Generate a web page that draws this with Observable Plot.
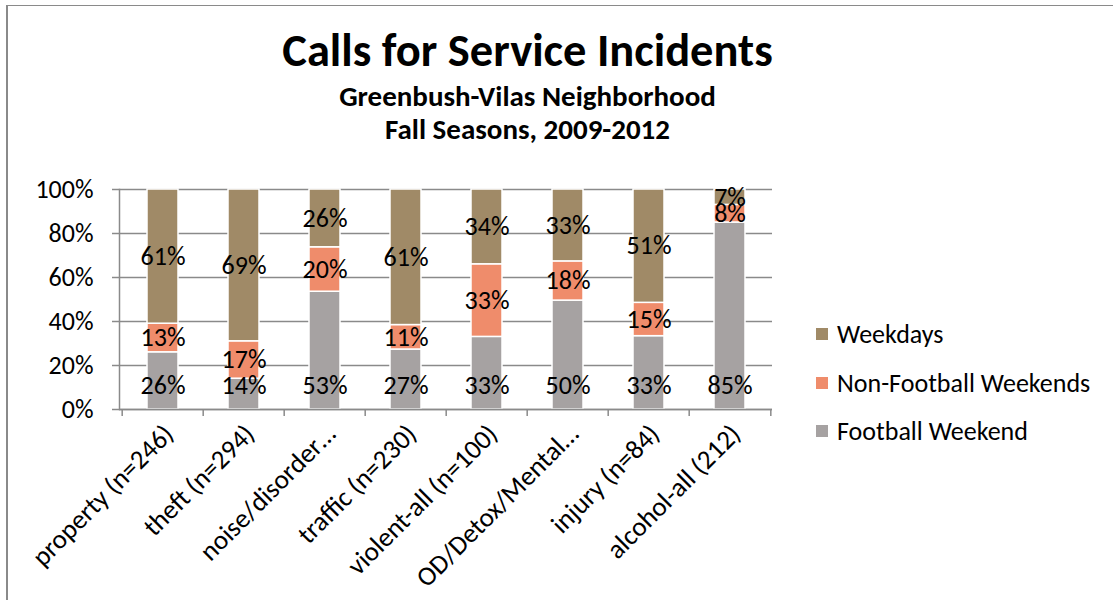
<!DOCTYPE html>
<html>
<head>
<meta charset="utf-8">
<script src="https://cdn.jsdelivr.net/npm/d3@7"></script>
<script src="https://cdn.jsdelivr.net/npm/@observablehq/plot@0.6"></script>
<style>
  html, body { margin: 0; padding: 0; background: #fff; }
  body { font-family: Carlito, Calibri, Lato, "Open Sans", sans-serif; }
  #wrap { position: relative; width: 1113px; height: 600px; overflow: hidden; }
  #border { position: absolute; left: 6px; top: 5px; width: 1120px; height: 620px;
            border-left: 2px solid #8a8a8a; border-top: 1.5px solid #8a8a8a; }
  .t { position: absolute; left: 0; width: 1055px; text-align: center; font-weight: bold; color: #000;
       white-space: nowrap; line-height: 1; }
  #title { top: 27px; font-size: 46.5px; }
  #sub1 { top: 82px; font-size: 29px; }
  #sub2 { top: 115px; font-size: 29px; }
  #chart { position: absolute; left: 0; top: 0; }
  #legend { position: absolute; left: 816px; top: 0; font-size: 26px; color: #000; }
  .li { position: absolute; left: 0; white-space: nowrap; display: flex; align-items: center; height: 30px; }
  .sw { width: 12px; height: 12px; margin-right: 9px; }
</style>
</head>
<body>
<div id="wrap">
  <div id="border"></div>
  <div class="t" id="title">Calls for Service Incidents</div>
  <div class="t" id="sub1">Greenbush-Vilas Neighborhood</div>
  <div class="t" id="sub2">Fall Seasons, 2009-2012</div>
  <div id="chart"></div>
  <div id="legend"></div>
</div>
<script>
// ---- data ----
const categories = ["property (n=246)", "theft (n=294)", "noise/disorder…", "traffic (n=230)",
                    "violent-all (n=100)", "OD/Detox/Mental…", "injury (n=84)", "alcohol-all (212)"];
const seriesNames = ["Football Weekend", "Non-Football Weekends", "Weekdays"];
const footballWeekend    = [26, 14, 53, 27, 33, 50, 33, 85];
const nonFootballWeekend = [13, 17, 20, 11, 33, 18, 15, 8];
const weekdays           = [61, 69, 26, 61, 34, 33, 51, 7];
const yTicks = [0, 0.2, 0.4, 0.6, 0.8, 1];
const colors = ["#A6A2A2", "#EF8C6B", "#A08A67"];

const seriesValues = [footballWeekend, nonFootballWeekend, weekdays];
const data = [];
categories.forEach((c, i) => {
  seriesNames.forEach((s, j) => data.push({category: c, series: s, value: seriesValues[j][i]}));
});

const W = 800, H = 600, mL = 119, mR = 28, mT = 189, mB = 191;
const step = (W - mL - mR) / categories.length;
const stackOpts = {offset: "normalize", order: seriesNames};
const FS = 26;

const chart = Plot.plot({
  width: W, height: H,
  marginLeft: mL, marginRight: mR, marginTop: mT, marginBottom: mB,
  style: {fontFamily: "Carlito, Calibri, Lato, sans-serif", background: "transparent", color: "#000"},
  x: {domain: categories, paddingInner: 0.62, paddingOuter: 0.31, label: null},
  y: {domain: [0, 1], label: null},
  color: {domain: seriesNames, range: colors},
  marks: [
    Plot.gridY(yTicks, {stroke: "#8a8a8a", strokeOpacity: 1, strokeWidth: 1.5}),
    Plot.axisY(yTicks, {tickFormat: d3.format(".0%"), tickSize: 7, tickPadding: 19, fontSize: FS,
                        stroke: "#8a8a8a", strokeWidth: 1.5, label: null}),
    Plot.frame({anchor: "left", stroke: "#8a8a8a", strokeWidth: 1.5}),
    Plot.barY(data, Plot.stackY(stackOpts, {
      x: "category", y: "value", fill: "series", z: "series",
      stroke: "white", strokeWidth: 1.5,
      style: "filter: drop-shadow(0px 0px 2px rgba(0,0,0,0.25))"
    })),
    Plot.ruleY([0], {stroke: "#8a8a8a", strokeWidth: 1.5}),
    Plot.axisX({ticks: categories, tickSize: 7, text: null, dx: -step / 2, stroke: "#8a8a8a", strokeWidth: 1.5, label: null}),
    Plot.axisX({ticks: categories.slice(-1), tickSize: 7, text: null, dx: step / 2, stroke: "#8a8a8a", strokeWidth: 1.5, label: null}),
    Plot.axisX({tickRotate: -45, tickSize: 0, tickPadding: 20, dx: 6, fontSize: 27, label: null}),
    // Football Weekend labels sit at the base of each bar
    Plot.text(data.filter(d => d.series === seriesNames[0]), {
      x: "category", y: () => 0, text: d => d.value + "%", dy: -24, fontSize: FS, fill: "#000"
    }),
    // other labels centered in their segment
    Plot.text(data, Plot.stackY(stackOpts, {
      x: "category", y: "value", z: "series",
      text: d => d.series === seriesNames[0] ? null : d.value + "%",
      fontSize: FS, fill: "#000"
    }))
  ]
});
document.getElementById("chart").appendChild(chart);

// legend (top series first, as in the reference)
const legend = document.getElementById("legend");
const legendCenters = [334, 383, 431];
seriesNames.slice().reverse().forEach((s, i) => {
  const row = document.createElement("div");
  row.className = "li";
  row.style.top = (legendCenters[i] - 15) + "px";
  const sw = document.createElement("span");
  sw.className = "sw";
  sw.style.background = colors[seriesNames.indexOf(s)];
  const tx = document.createElement("span");
  tx.textContent = s;
  row.appendChild(sw); row.appendChild(tx);
  legend.appendChild(row);
});
</script>
</body>
</html>
